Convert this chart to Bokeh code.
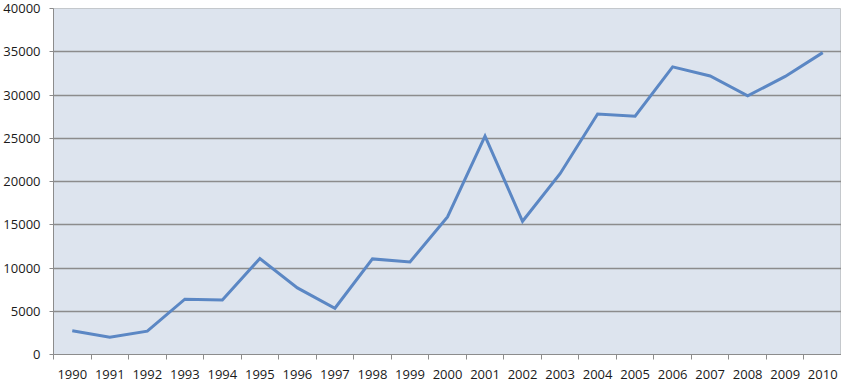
from bokeh.plotting import figure
from bokeh.models import Range1d, FixedTicker, BasicTickFormatter
from bokeh.embed import file_html
from bokeh.resources import INLINE

years = [1990, 1991, 1992, 1993, 1994, 1995, 1996, 1997, 1998, 1999, 2000,
         2001, 2002, 2003, 2004, 2005, 2006, 2007, 2008, 2009, 2010]
values = [2750, 2000, 2700, 6400, 6300, 11100, 7700, 5350, 11050, 10700, 15900,
          25250, 15400, 20900, 27800, 27550, 33250, 32200, 29900, 32150, 34900]
y_ticks = [0, 5000, 10000, 15000, 20000, 25000, 30000, 35000, 40000]

p = figure(width=841, height=381, output_backend="svg", toolbar_location=None,
           x_range=Range1d(years[0] - 0.5, years[-1] + 0.5),
           y_range=Range1d(0, 40000),
           min_border_left=50, min_border_right=0, min_border_top=8, min_border_bottom=20)

p.background_fill_color = "#dde4ee"
p.border_fill_color = "white"
p.outline_line_color = "#c4c8cc"

p.line(years, values, line_color="#5b87c4", line_width=3, line_join="miter")

font = "Open Sans"
# x axis
p.xaxis.ticker = FixedTicker(ticks=years, minor_ticks=[y - 0.5 for y in years] + [years[-1] + 0.5])
p.xaxis.formatter = BasicTickFormatter(use_scientific=False)
p.xaxis.major_tick_out = 0
p.xaxis.major_tick_in = 0
p.xaxis.minor_tick_out = 5
p.xaxis.minor_tick_in = 0
p.xaxis.minor_tick_line_color = "#8c8c8c"
p.xaxis.axis_line_color = "#8c8c8c"
p.xaxis.major_label_standoff = 10
p.xaxis.major_label_text_font = font
p.xaxis.major_label_text_font_size = "13px"
p.xaxis.major_label_text_color = "#1a1a1a"
p.xgrid.grid_line_color = None

# y axis
p.yaxis.ticker = FixedTicker(ticks=y_ticks)
p.yaxis.formatter = BasicTickFormatter(use_scientific=False)
p.yaxis.minor_tick_line_color = None
p.yaxis.major_tick_out = 4
p.yaxis.major_tick_in = 0
p.yaxis.major_tick_line_color = "#8c8c8c"
p.yaxis.axis_line_color = "#8c8c8c"
p.yaxis.major_label_standoff = 9
p.yaxis.major_label_text_font = font
p.yaxis.major_label_text_font_size = "13px"
p.yaxis.major_label_text_color = "#1a1a1a"
p.ygrid.grid_line_color = "#8c8c8c"
p.ygrid.grid_line_width = 1.5

open("out.html", "w").write(file_html(p, INLINE))
